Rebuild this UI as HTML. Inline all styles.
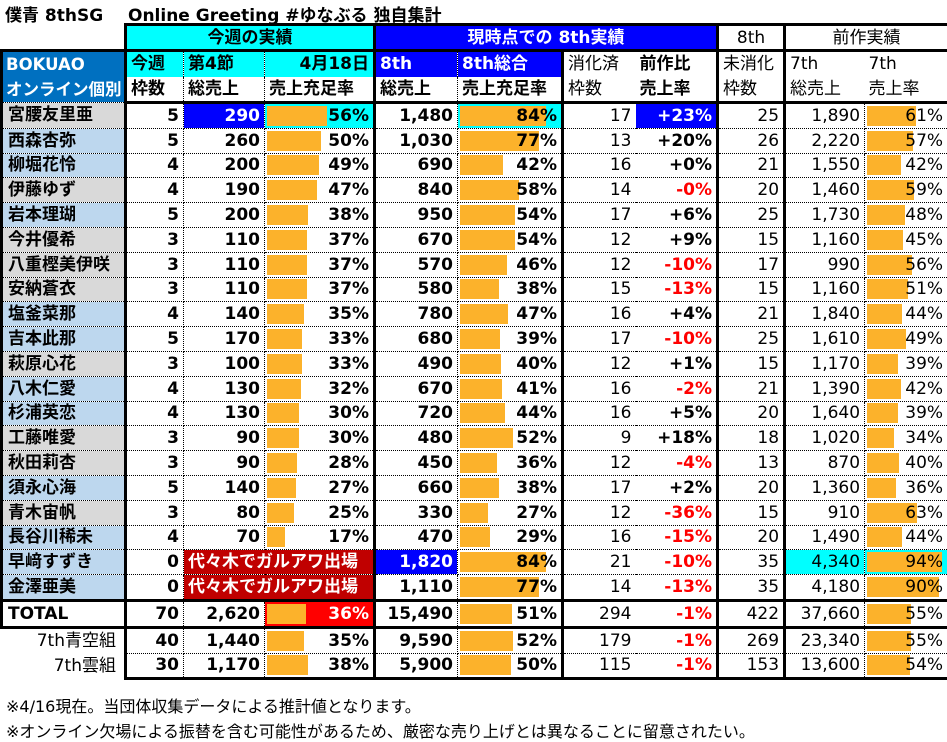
<!DOCTYPE html>
<html><head><meta charset="utf-8">
<style>
body{margin:0;background:#fff;width:947px;height:742px;overflow:hidden;position:relative;font-family:"DejaVu Sans","Noto Sans CJK JP",sans-serif;color:#000}
.t{position:absolute;top:1px;font-size:17px;font-weight:bold;white-space:nowrap}
table{position:absolute;left:0;top:23px;border-collapse:collapse;table-layout:fixed;width:947px}
td{border:1px dotted #000;height:23.8px;padding:0 4px;font-size:17px;font-weight:bold;text-align:right;white-space:nowrap;overflow:hidden;line-height:22px}
td.r{font-weight:normal}
.n{text-align:left;font-size:17px;border-left:3px solid #000;border-right:3px solid #000;padding-left:5px}
.g{background:#d9d9d9}.b{background:#bdd7ee}
.E{border-left:3px solid #000}
.G{border-left:3px solid #000;border-right:none}
.H{border-left:none;border-right:3px solid #000}
.I{border-right:3px solid #000}
.K{border-right:3px solid #000}
.neg{color:#f00}
.bar{background-image:linear-gradient(#fcb22b,#fcb22b);background-repeat:no-repeat;background-position:2px center;background-size:var(--w) 20px}
.cy{background-color:#0ff}
.bl{background-color:#00f;color:#fff}
.rd{background-color:#f00;color:#fff}
.dr{background:#c00000;color:#fff;text-align:left}
tr.h1 td{border:3px solid #000;text-align:center;height:23px}
tr.h1 td.h0{border:none;border-bottom:3px solid #000}
tr.h2 td,tr.h3 td{text-align:left}
tr.h2 td{border-bottom:none}
tr.h3 td{border-top:none;border-bottom:3px solid #000}
td.hn{font-weight:normal}
td.nh{background:#0070c0;color:#fff;border:3px solid #000;line-height:25px;vertical-align:middle;font-size:16.5px;padding-left:3px}
tr.tt td{border-top:3px solid #000;border-bottom:3px solid #000}
tr.last td{border-bottom:3px solid #000}
tr td.x{border:none;border-right:3px solid #000;font-weight:normal;padding-right:8px}
.f{position:absolute;left:6px;font-size:16px;white-space:nowrap}
</style></head><body>
<div class="t" style="left:5px">僕青 8thSG</div>
<div class="t" style="left:128px">Online Greeting #ゆなぶる 独自集計</div>
<table>
<colgroup><col style="width:124px"><col style="width:58px"><col style="width:81px"><col style="width:110px"><col style="width:83px"><col style="width:105px"><col style="width:73px"><col style="width:82px"><col style="width:67px"><col style="width:80px"><col style="width:84px"></colgroup>
<tr class="h1"><td class="h0"></td><td colspan="3" class="cy">今週の実績</td><td colspan="4" class="bl">現時点での 8th実績</td><td class="hn">8th</td><td colspan="2" class="hn">前作実績</td></tr>
<tr class="h2"><td rowspan="2" class="nh">BOKUAO<br>オンライン個別</td><td class="cy">今週</td><td class="cy">第4節</td><td class="cy" style="text-align:right">4月18日</td><td class="E bl">8th</td><td class="bl">8th総合</td><td class="G hn">消化済</td><td class="H">前作比</td><td class="I hn">未消化</td><td class="hn" style="border-right:none">7th</td><td class="K hn" style="border-left:none">7th</td></tr>
<tr class="h3"><td>枠数</td><td>総売上</td><td>売上充足率</td><td class="E">総売上</td><td>売上充足率</td><td class="G hn">枠数</td><td class="H">売上率</td><td class="I hn">枠数</td><td class="hn" style="border-right:none">総売上</td><td class="K hn" style="border-left:none">売上率</td></tr>

<tr><td class="n g">宮腰友里亜</td><td>5</td><td class="bl">290</td><td class="bar cy" style="--w:60px">56%</td><td class="E">1,480</td><td class="bar cy" style="--w:86px">84%</td><td class="G r">17</td><td class="H bl">+23%</td><td class="I r">25</td><td class="r">1,890</td><td class="K r bar" style="--w:49px">61%</td></tr>
<tr><td class="n b">西森杏弥</td><td>5</td><td>260</td><td class="bar" style="--w:54px">50%</td><td class="E">1,030</td><td class="bar" style="--w:79px">77%</td><td class="G r">13</td><td class="H">+20%</td><td class="I r">26</td><td class="r">2,220</td><td class="K r bar" style="--w:46px">57%</td></tr>
<tr><td class="n b">柳堀花怜</td><td>4</td><td>200</td><td class="bar" style="--w:52px">49%</td><td class="E">690</td><td class="bar" style="--w:43px">42%</td><td class="G r">16</td><td class="H">+0%</td><td class="I r">21</td><td class="r">1,550</td><td class="K r bar" style="--w:34px">42%</td></tr>
<tr><td class="n g">伊藤ゆず</td><td>4</td><td>190</td><td class="bar" style="--w:50px">47%</td><td class="E">840</td><td class="bar" style="--w:59px">58%</td><td class="G r">14</td><td class="H neg">-0%</td><td class="I r">20</td><td class="r">1,460</td><td class="K r bar" style="--w:47px">59%</td></tr>
<tr><td class="n b">岩本理瑚</td><td>5</td><td>200</td><td class="bar" style="--w:41px">38%</td><td class="E">950</td><td class="bar" style="--w:55px">54%</td><td class="G r">17</td><td class="H">+6%</td><td class="I r">25</td><td class="r">1,730</td><td class="K r bar" style="--w:38px">48%</td></tr>
<tr><td class="n g">今井優希</td><td>3</td><td>110</td><td class="bar" style="--w:40px">37%</td><td class="E">670</td><td class="bar" style="--w:55px">54%</td><td class="G r">12</td><td class="H">+9%</td><td class="I r">15</td><td class="r">1,160</td><td class="K r bar" style="--w:36px">45%</td></tr>
<tr><td class="n g">八重樫美伊咲</td><td>3</td><td>110</td><td class="bar" style="--w:40px">37%</td><td class="E">570</td><td class="bar" style="--w:47px">46%</td><td class="G r">12</td><td class="H neg">-10%</td><td class="I r">17</td><td class="r">990</td><td class="K r bar" style="--w:45px">56%</td></tr>
<tr><td class="n g">安納蒼衣</td><td>3</td><td>110</td><td class="bar" style="--w:40px">37%</td><td class="E">580</td><td class="bar" style="--w:39px">38%</td><td class="G r">15</td><td class="H neg">-13%</td><td class="I r">15</td><td class="r">1,160</td><td class="K r bar" style="--w:41px">51%</td></tr>
<tr><td class="n b">塩釜菜那</td><td>4</td><td>140</td><td class="bar" style="--w:37px">35%</td><td class="E">780</td><td class="bar" style="--w:48px">47%</td><td class="G r">16</td><td class="H">+4%</td><td class="I r">21</td><td class="r">1,840</td><td class="K r bar" style="--w:35px">44%</td></tr>
<tr><td class="n b">吉本此那</td><td>5</td><td>170</td><td class="bar" style="--w:35px">33%</td><td class="E">680</td><td class="bar" style="--w:40px">39%</td><td class="G r">17</td><td class="H neg">-10%</td><td class="I r">25</td><td class="r">1,610</td><td class="K r bar" style="--w:39px">49%</td></tr>
<tr><td class="n g">萩原心花</td><td>3</td><td>100</td><td class="bar" style="--w:35px">33%</td><td class="E">490</td><td class="bar" style="--w:41px">40%</td><td class="G r">12</td><td class="H">+1%</td><td class="I r">15</td><td class="r">1,170</td><td class="K r bar" style="--w:31px">39%</td></tr>
<tr><td class="n b">八木仁愛</td><td>4</td><td>130</td><td class="bar" style="--w:34px">32%</td><td class="E">670</td><td class="bar" style="--w:42px">41%</td><td class="G r">16</td><td class="H neg">-2%</td><td class="I r">21</td><td class="r">1,390</td><td class="K r bar" style="--w:34px">42%</td></tr>
<tr><td class="n b">杉浦英恋</td><td>4</td><td>130</td><td class="bar" style="--w:32px">30%</td><td class="E">720</td><td class="bar" style="--w:45px">44%</td><td class="G r">16</td><td class="H">+5%</td><td class="I r">20</td><td class="r">1,640</td><td class="K r bar" style="--w:31px">39%</td></tr>
<tr><td class="n g">工藤唯愛</td><td>3</td><td>90</td><td class="bar" style="--w:32px">30%</td><td class="E">480</td><td class="bar" style="--w:53px">52%</td><td class="G r">9</td><td class="H">+18%</td><td class="I r">18</td><td class="r">1,020</td><td class="K r bar" style="--w:27px">34%</td></tr>
<tr><td class="n g">秋田莉杏</td><td>3</td><td>90</td><td class="bar" style="--w:30px">28%</td><td class="E">450</td><td class="bar" style="--w:37px">36%</td><td class="G r">12</td><td class="H neg">-4%</td><td class="I r">13</td><td class="r">870</td><td class="K r bar" style="--w:32px">40%</td></tr>
<tr><td class="n b">須永心海</td><td>5</td><td>140</td><td class="bar" style="--w:29px">27%</td><td class="E">660</td><td class="bar" style="--w:39px">38%</td><td class="G r">17</td><td class="H">+2%</td><td class="I r">20</td><td class="r">1,360</td><td class="K r bar" style="--w:29px">36%</td></tr>
<tr><td class="n g">青木宙帆</td><td>3</td><td>80</td><td class="bar" style="--w:27px">25%</td><td class="E">330</td><td class="bar" style="--w:28px">27%</td><td class="G r">12</td><td class="H neg">-36%</td><td class="I r">15</td><td class="r">910</td><td class="K r bar" style="--w:50px">63%</td></tr>
<tr><td class="n b">長谷川稀未</td><td>4</td><td>70</td><td class="bar" style="--w:18px">17%</td><td class="E">470</td><td class="bar" style="--w:30px">29%</td><td class="G r">16</td><td class="H neg">-15%</td><td class="I r">20</td><td class="r">1,490</td><td class="K r bar" style="--w:35px">44%</td></tr>
<tr><td class="n b">早﨑すずき</td><td>0</td><td colspan="2" class="dr">代々木でガルアワ出場</td><td class="E bl">1,820</td><td class="bar" style="--w:86px">84%</td><td class="G r">21</td><td class="H neg">-10%</td><td class="I r">35</td><td class="r cy">4,340</td><td class="K r bar cy" style="--w:75px">94%</td></tr>
<tr><td class="n b">金澤亜美</td><td>0</td><td colspan="2" class="dr">代々木でガルアワ出場</td><td class="E">1,110</td><td class="bar" style="--w:79px">77%</td><td class="G r">14</td><td class="H neg">-13%</td><td class="I r">35</td><td class="r">4,180</td><td class="K r bar" style="--w:72px">90%</td></tr>
<tr class="tt"><td class="n">TOTAL</td><td>70</td><td>2,620</td><td class="bar rd" style="--w:39px">36%</td><td class="E">15,490</td><td class="bar" style="--w:52px">51%</td><td class="G r">294</td><td class="H neg">-1%</td><td class="I r">422</td><td class="r">37,660</td><td class="K r bar" style="--w:44px">55%</td></tr>
<tr><td class="x">7th青空組</td><td>40</td><td>1,440</td><td class="bar" style="--w:37px">35%</td><td class="E">9,590</td><td class="bar" style="--w:53px">52%</td><td class="G r">179</td><td class="H neg">-1%</td><td class="I r">269</td><td class="r">23,340</td><td class="K r bar" style="--w:44px">55%</td></tr>
<tr class="last"><td class="x">7th雲組</td><td>30</td><td>1,170</td><td class="bar" style="--w:41px">38%</td><td class="E">5,900</td><td class="bar" style="--w:51px">50%</td><td class="G r">115</td><td class="H neg">-1%</td><td class="I r">153</td><td class="r">13,600</td><td class="K r bar" style="--w:43px">54%</td></tr>
</table>
<div class="f" style="top:693px">※4/16現在。当団体収集データによる推計値となります。</div>
<div class="f" style="top:718px">※オンライン欠場による振替を含む可能性があるため、厳密な売り上げとは異なることに留意されたい。</div>
</body></html>
